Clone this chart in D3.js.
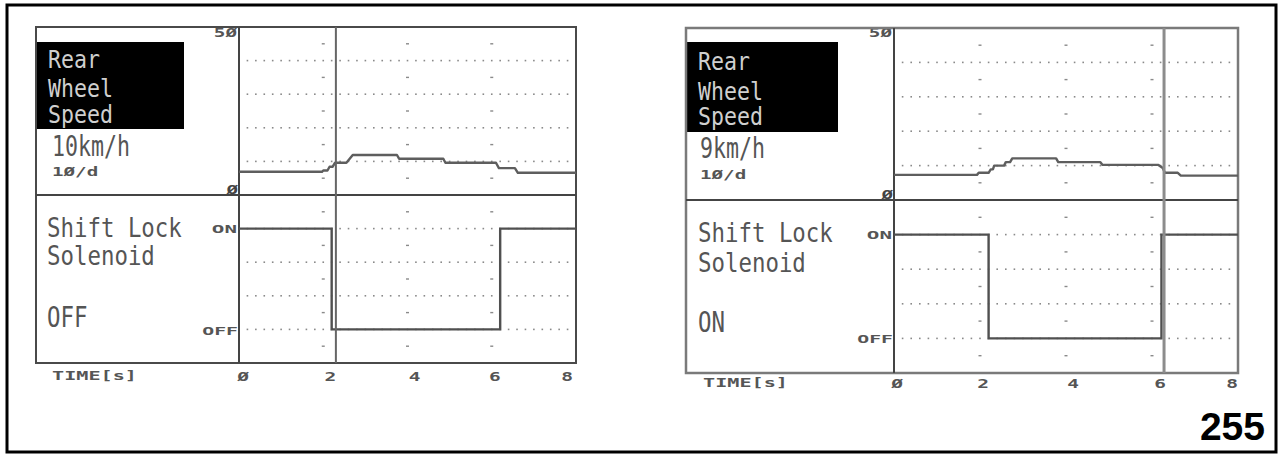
<!DOCTYPE html>
<html>
<head>
<meta charset="utf-8">
<script src="https://cdn.jsdelivr.net/npm/d3@7"></script>
<style>
  html, body { margin: 0; padding: 0; background: #fff; }
  svg { display: block; }
</style>
</head>
<body>
<svg id="chart" width="1285" height="454"></svg>
<script>
// ---------------- DATA ----------------
const timeTicks = [0, 2, 4, 6, 8];
const timeTickLabels = ["Ø", "2", "4", "6", "8"];
const speedDomain = [0, 50];

// Left chart: Rear Wheel Speed (km/h) vs time (s)
const leftSpeedTimes  = [0, 1.97, 2.0, 2.1, 2.15, 2.22, 2.28, 2.55, 2.7, 3.75, 3.8, 4.85, 4.9, 6.1, 6.17, 6.55, 6.62, 8];
const leftSpeedValues = [6.9, 6.9, 7.3, 7.3, 8.4, 8.4, 9.6, 9.6, 11.9, 11.9, 10.8, 10.8, 9.6, 9.6, 8.0, 8.0, 6.6, 6.6];
// Left chart: Shift Lock Solenoid (1 = ON, 0 = OFF)
const leftSolTimes  = [0, 2.2, 2.2, 6.2, 6.2, 8];
const leftSolStates = [1, 1, 0, 0, 1, 1];
const leftCursor = 2.3;

// Right chart
const rightSpeedTimes  = [0, 1.93, 1.97, 2.2, 2.25, 2.3, 2.33, 2.56, 2.6, 2.7, 2.75, 3.77, 3.82, 4.8, 4.85, 6.15, 6.25, 6.3, 6.6, 6.67, 8];
const rightSpeedValues = [7.3, 7.3, 7.9, 7.9, 8.9, 8.9, 10, 10, 11, 11, 12.1, 12.1, 11, 11, 10.2, 10.2, 9.3, 7.9, 7.9, 7.1, 7.1];
const rightSolTimes  = [0, 2.2, 2.2, 6.22, 6.22, 8];
const rightSolStates = [1, 1, 0, 0, 1, 1];
const rightCursor = 6.28;

const speedTitle = ["Rear", "Wheel", "Speed"];
const solTitle = ["Shift Lock", "Solenoid"];
const leftSpeedReading = "10km/h";
const rightSpeedReading = "9km/h";
const leftSolReading = "OFF";
const rightSolReading = "ON";
const scaleLabel = "1Ø/d";
const speedMaxLabel = "5Ø";
const speedMinLabel = "Ø";
const onLabel = "ON";
const offLabel = "OFF";
const timeLabel = "TIME[s]";
const pageNumber = "255";

// ---------------- LAYOUT ----------------
const MONO = "'DejaVu Sans Mono', monospace";
const svg = d3.select("#chart");

// outer frame
svg.append("rect").attr("x", 7).attr("y", 5).attr("width", 1269).attr("height", 447)
  .attr("fill", "none").attr("stroke", "#000").attr("stroke-width", 3);

function addText(g, str, x, y, size, sx, sy, anchor, fill, center, weight) {
  // y is baseline unless center = true (then y is the vertical centre of caps)
  const cap = 0.729 * size * sy;
  const by = center ? y + cap / 2 : y;
  g.append("g").attr("transform", `translate(${x},${by}) scale(${sx},${sy})`)
    .append("text")
    .attr("x", 0).attr("y", 0)
    .attr("font-family", MONO)
    .attr("font-size", size)
    .attr("font-weight", weight || "normal")
    .attr("text-anchor", anchor)
    .attr("fill", fill)
    .text(str);
}

function drawPanel(p) {
  const g = svg.append("g");
  const x = d3.scaleLinear().domain([0, 8]).range([p.xDiv, p.x1]);
  const ySpeed = d3.scaleLinear().domain(speedDomain).range([p.yMid, p.y0]);
  const yDivB = d3.scaleLinear().domain([0, 5]).range([p.y1, p.yMid]); // bottom divisions
  const yState = d3.scaleLinear().domain([0, 1]).range([yDivB(1), yDivB(4)]);

  const gridColor = "#8a8a8a";
  const dotT = d3.range(1, 40).map(i => i * 0.2);

  // --- top grid: dotted horizontal lines at 10,20,30,40
  [10, 20, 30, 40].forEach(v => {
    g.append("g").selectAll("rect").data(dotT).join("rect")
      .attr("x", d => x(d) - 0.8).attr("y", ySpeed(v) - 0.8)
      .attr("width", 1.6).attr("height", 1.6).attr("fill", gridColor);
  });
  // column marks at 2,4,6 at half divisions
  [2, 4, 6].forEach(t => {
    g.append("g").selectAll("rect").data([5, 15, 25, 35, 45]).join("rect")
      .attr("x", x(t) - 1.5).attr("y", d => ySpeed(d) - 0.7)
      .attr("width", 3).attr("height", 1.4).attr("fill", gridColor);
  });
  // --- bottom grid: dotted horizontal lines at divisions 1..4
  [1, 2, 3, 4].forEach(v => {
    g.append("g").selectAll("rect").data(dotT).join("rect")
      .attr("x", d => x(d) - 0.8).attr("y", yDivB(v) - 0.8)
      .attr("width", 1.6).attr("height", 1.6).attr("fill", gridColor);
  });
  [2, 4, 6].forEach(t => {
    g.append("g").selectAll("rect").data([0.5, 1.5, 2.5, 3.5, 4.5]).join("rect")
      .attr("x", x(t) - 1.5).attr("y", d => yDivB(d) - 0.7)
      .attr("width", 3).attr("height", 1.4).attr("fill", gridColor);
  });

  // --- label box
  g.append("rect").attr("x", p.x0).attr("y", p.boxY0)
    .attr("width", p.boxX1 - p.x0).attr("height", p.boxY1 - p.boxY0).attr("fill", "#000");
  speedTitle.forEach((s, i) => addText(g, s, p.titleX, p.titleY[i], 21.6, 1, 1.12, "start", "#cfcfcf", false));
  addText(g, p.reading, p.readX, p.readY, 21.6, 1, 1.3, "start", "#555", false);
  addText(g, scaleLabel, p.readX, p.scaleY, 12, 1.6, 1.0, "start", "#555", false, "bold");
  addText(g, speedMaxLabel, p.xDiv - 2, p.maxY, 11, 1.75, 1.05, "end", "#555", true, "bold");
  addText(g, speedMinLabel, p.xDiv - 1, p.minY, 11, 1.75, 1.1, "end", "#444", true, "bold");

  solTitle.forEach((s, i) => addText(g, s, p.solX, p.solY[i], 22.4, 1, 1.16, "start", "#555", false));
  addText(g, p.solReading, p.solX, p.solReadY, 22.4, 1, 1.25, "start", "#555", false);
  addText(g, onLabel, p.xDiv - 2, yState(1) + p.onDy, 11, 1.9, 1.0, "end", "#555", true, "bold");
  addText(g, offLabel, p.xDiv - 1, yState(0) + p.offDy, 11, 1.8, 1.0, "end", "#555", true, "bold");

  addText(g, timeLabel, p.timeX, p.tickY, 13, 1.55, 0.9, "start", "#555", true, "bold");
  timeTicks.forEach((t, i) => addText(g, timeTickLabels[i], x(t) + p.tickDx[i], p.tickY, 13, 1.5, 1.0, "middle", "#555", true, "bold"));

  // --- panel frame
  const fc = p.frameColor, fw = p.frameWidth;
  g.append("rect").attr("x", p.x0).attr("y", p.y0).attr("width", p.x1 - p.x0).attr("height", p.y1 - p.y0)
    .attr("fill", "none").attr("stroke", fc).attr("stroke-width", fw);
  g.append("line").attr("x1", p.xDiv).attr("x2", p.xDiv).attr("y1", p.y0).attr("y2", p.y1)
    .attr("stroke", "#444").attr("stroke-width", 2);
  g.append("line").attr("x1", p.x0).attr("x2", p.x1).attr("y1", p.yMid).attr("y2", p.yMid)
    .attr("stroke", "#444").attr("stroke-width", 2);

  // --- speed trace
  const speedPts = p.speedT.map((t, i) => [t, p.speedV[i]]);
  g.append("path").datum(speedPts)
    .attr("d", d3.line().x(d => x(d[0])).y(d => ySpeed(d[1])))
    .attr("fill", "none").attr("stroke", "#5e5e5e").attr("stroke-width", 2.4)
    .attr("stroke-linejoin", "round");

  // --- solenoid trace
  const solPts = p.solT.map((t, i) => [t, p.solS[i]]);
  g.append("path").datum(solPts)
    .attr("d", d3.line().x(d => x(d[0])).y(d => yState(d[1])))
    .attr("fill", "none").attr("stroke", "#505050").attr("stroke-width", 2.4);

  // --- cursor
  g.append("line").attr("x1", x(p.cursor)).attr("x2", x(p.cursor)).attr("y1", p.y0).attr("y2", p.y1)
    .attr("stroke", p.cursorColor).attr("stroke-width", p.cursorWidth);
}

drawPanel({
  x0: 36, y0: 27, xDiv: 239, x1: 576, yMid: 195, y1: 363,
  boxX1: 184, boxY0: 42, boxY1: 129,
  titleX: 48, titleY: [68, 97, 123],
  reading: leftSpeedReading, readX: 52, readY: 156, scaleY: 176,
  maxY: 33, minY: 190,
  solX: 47, solY: [237, 265], solReading: leftSolReading, solReadY: 327,
  onDy: 0, offDy: 2,
  timeX: 52, tickY: 376, tickDx: [4, 7, 7, 3, -9],
  speedT: leftSpeedTimes, speedV: leftSpeedValues,
  solT: leftSolTimes, solS: leftSolStates,
  cursor: leftCursor, cursorColor: "#666", cursorWidth: 2,
  frameColor: "#4a4a4a", frameWidth: 2
});

drawPanel({
  x0: 686, y0: 28, xDiv: 894, x1: 1238, yMid: 200, y1: 373,
  boxX1: 838, boxY0: 42, boxY1: 132,
  titleX: 698, titleY: [70, 100, 125],
  reading: rightSpeedReading, readX: 700, readY: 158, scaleY: 179,
  maxY: 33, minY: 195,
  solX: 698, solY: [242, 272], solReading: rightSolReading, solReadY: 332,
  onDy: 0, offDy: 1,
  timeX: 703, tickY: 383, tickDx: [3, 3, 7, 8, -6],
  speedT: rightSpeedTimes, speedV: rightSpeedValues,
  solT: rightSolTimes, solS: rightSolStates,
  cursor: rightCursor, cursorColor: "#8c8c8c", cursorWidth: 3,
  frameColor: "#7a7a7a", frameWidth: 2.5
});

// page number
svg.append("text").attr("x", 1265).attr("y", 440)
  .attr("font-family", "'Liberation Sans', Arial, sans-serif")
  .attr("font-weight", "bold").attr("font-size", 39)
  .attr("text-anchor", "end").attr("fill", "#000")
  .text(pageNumber);
</script>
</body>
</html>
